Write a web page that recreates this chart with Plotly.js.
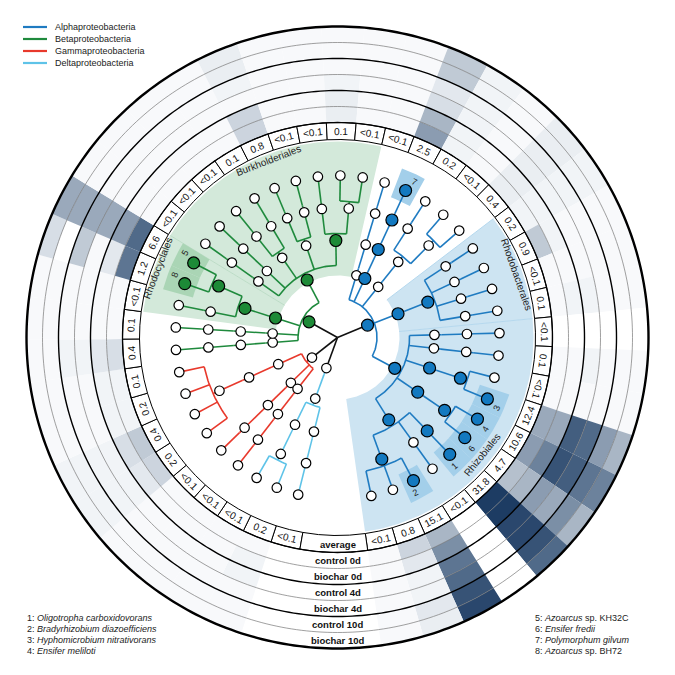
<!DOCTYPE html>
<html><head><meta charset="utf-8">
<script src="https://cdn.plot.ly/plotly-3.0.1.min.js"></script>
<style>html,body{margin:0;padding:0;background:#fff}#chart{width:675px;height:675px}</style>
</head><body><div id="chart"></div>
<script>
// ---------------- DATA ----------------
const averageLabels = ["<0.1","0.2","<0.1","<0.1","<0.1","0.2","0.4","0.2","0.1","0.4","0.1","<0.1","1.2","6.6","<0.1","<0.1","<0.1","0.1","0.8","<0.1","<0.1","0.1","<0.1","<0.1","2.5","0.2","<0.1","0.4","0.2","0.9","<0.1","0.1","<0.1","0.1","<0.1","12.4","10.6","4.7","31.8","<0.1","15.1","0.8","<0.1"];
const ringNames = ["control 0d","biochar 0d","control 4d","biochar 4d","control 10d","biochar 10d"];
// shading level (0 = white, 1 = darkest) per leaf, per sample ring
const control0d  = [0,0.05,0.05,0.05,0.05,0.3,0.35,0.1,0.1,0.25,0.05,0.05,0.7,0.75,0.05,0.05,0.05,0.05,0.3,0.05,0.05,0.15,0.05,0.05,0.55,0.1,0.05,0.15,0.1,0.35,0.05,0.05,0,0.05,0.05,0.5,0.55,0.4,0.95,0,0.45,0.3,0.05];
const biochar0d  = [0,0.1,0.05,0.05,0.05,0.2,0.25,0.1,0.1,0.2,0.05,0.05,0.2,0.55,0.05,0.05,0.05,0.05,0.3,0.05,0.05,0.15,0.05,0.05,0.45,0.1,0.05,0.15,0.1,0.1,0.05,0.1,0,0.05,0.05,0.5,0.65,0.45,0.95,0,0.6,0.2,0.05];
const control4d  = [0,0.1,0.05,0.05,0.05,0.1,0.1,0.05,0.05,0.1,0.05,0.05,0.05,0.5,0.05,0.05,0.05,0.05,0.05,0.05,0.05,0.1,0.05,0.05,0.25,0.1,0.05,0.15,0.1,0.05,0.05,0.1,0,0.1,0.05,0.8,0.85,0.55,0.9,0,0.7,0.1,0.05];
const biochar4d  = [0,0.05,0.05,0.05,0.05,0.1,0.1,0.05,0.05,0.1,0.05,0.05,0.35,0.5,0.05,0.05,0.05,0.05,0.1,0.05,0.05,0.05,0.05,0.05,0.2,0.1,0.05,0.15,0.1,0.05,0.05,0.05,0,0.05,0.05,0.75,0.8,0.5,0.9,0,0.75,0.1,0.05];
const control10d = [0,0.05,0.05,0.05,0.05,0.1,0.1,0.05,0.05,0.05,0.05,0.05,0,0.5,0.05,0.05,0.05,0.05,0.15,0.05,0.05,0.05,0.05,0.05,0.35,0.1,0.05,0.15,0.1,0.05,0.05,0.05,0,0.05,0.05,0.55,0.7,0.6,0.85,0,0.85,0.2,0.05];
const biochar10d = [0,0.05,0.05,0.05,0.05,0.1,0.1,0.05,0.05,0.05,0.05,0.05,0.25,0.5,0.05,0.05,0.05,0.05,0.15,0.05,0.05,0.05,0.05,0.05,0.35,0.1,0.05,0.15,0.1,0.05,0.05,0.05,0,0.05,0.05,0.45,0.65,0.45,0.75,0,0.9,0.15,0.05];
// taxonomy trees: class -> order -> family -> genus -> leaf index
const classNames = ["Alphaproteobacteria","Betaproteobacteria","Gammaproteobacteria","Deltaproteobacteria"];
const classKeys  = ["a","b","g","d"];
const alphaTree = [ [[[23]]], [[[24]]], [[[25],[26,27]]], [[[28],[29],[30],[31]]], [ [[32]], [[33]], [[34,35]], [[36,37]], [[38],[39],[40,41,42]] ] ];
const betaTree  = [ [[[9]]], [[[10]]], [[[11],[12,13]]], [ [[14]], [[15]], [[16],[17]], [[18],[19]], [[20],[21,22]] ] ];
const gammaTree = [ [[[5,6,7,8]]], [[[4]]], [[[3]]] ];
const deltaTree = [ [ [[0]], [[1,2]] ] ];
const filledNodes = ["a","a.1","a.1.0","a.1.0.0","a.3","a.3.0","a.4","a.4.2","a.4.2.0","a.4.3","a.4.3.0","a.4.4","a.4.4.0","a.4.4.2",
                     "b","b.2","b.2.0","b.2.0.1","b.3","b.3.4"];
const numberedLeaves = [38,40,35,36,13,37,24,12];   // labels 1..8
const orderNames = ["Burkholderiales","Rhodocyclales","Rhodobacterales","Rhizobiales"];
const orderLeafRanges = [[14,22],[11,13],[28,31],[32,42]];
const speciesNotes = ["1: <i>Oligotropha carboxidovorans</i>","2: <i>Bradyrhizobium diazoefficiens</i>","3: <i>Hyphomicrobium nitrativorans</i>","4: <i>Ensifer meliloti</i>",
                      "5: <i>Azoarcus</i> sp. KH32C","6: <i>Ensifer fredii</i>","7: <i>Polymorphum gilvum</i>","8: <i>Azoarcus</i> sp. BH72"];

// ---------------- GEOMETRY / STYLE ----------------
const N = averageLabels.length;
const W = 7.95, GAP = 360 - N*W, GAPC = 269;
const theta = k => GAPC - GAP/2 - W/2 - k*W;
const rad = d => d*Math.PI/180;
const P = (r,a) => [r*Math.cos(rad(a)), r*Math.sin(rad(a))];
const FONT = "Liberation Sans, Arial, sans-serif";
const classColors = {a:"#1f7bc1", b:"#1f8a3d", g:"#e8392c", d:"#5ec3e8"};
const fillColors  = {a:"#1379c0", b:"#1d8a37"};
const LEVEL_R = [0, 32.5, 65, 97, 129.5, 162];
const RING_IN = [215,231,247,263,279,295], RING_W = 16;
const AVG_IN = 198, AVG_W = 17;
const HEAT = [[0,'#ffffff'],[0.2,'#e3e8ee'],[0.45,'#a9b6c5'],[0.7,'#5d7592'],[1,'#10305a']];

const thetas = averageLabels.map((_,k)=>theta(k));
const traces = [];
const annotations = [];

// ---- heat rings (polar) ----
[control0d,biochar0d,control4d,biochar4d,control10d,biochar10d].forEach((vals,i)=>{
  traces.push({type:'barpolar', theta:thetas, r:vals.map(()=>RING_W), base:vals.map(()=>RING_IN[i]),
    width:vals.map(()=>W), marker:{color:vals, colorscale:HEAT, cmin:0, cmax:1, line:{width:0}},
    hoverinfo:'skip', showlegend:false});
});
// average ring boxes
traces.push({type:'barpolar', theta:thetas, r:thetas.map(()=>AVG_W), base:thetas.map(()=>AVG_IN), width:thetas.map(()=>W),
  marker:{color:'#ffffff', line:{color:'#000', width:1}}, hoverinfo:'skip', showlegend:false});
traces.push({type:'barpolar', theta:[GAPC], r:[AVG_W], base:[AVG_IN], width:[GAP],
  marker:{color:'#ffffff', line:{color:'#000', width:1}}, hoverinfo:'skip', showlegend:false});
// ring circles
const circ = []; for (let a=0;a<=360;a+=1) circ.push(a);
[[215,1.3,'#000'],[231,0.7,'#777'],[247,1.4,'#000'],[263,0.7,'#777'],[279,1.4,'#000'],[295,0.7,'#777'],[311,2.4,'#000']].forEach(([r,w,c])=>{
  traces.push({type:'scatterpolar', mode:'lines', theta:circ, r:circ.map(()=>r), line:{color:c,width:w}, hoverinfo:'skip', showlegend:false});
});

// ---- cartesian: wedges ----
function sector(r0,r1,a0,a1){
  const xs=[],ys=[]; const n=Math.max(2,Math.ceil(Math.abs(a1-a0)));
  for(let i=0;i<=n;i++){const a=a0+(a1-a0)*i/n; const p=P(r1,a); xs.push(p[0]); ys.push(p[1]);}
  for(let i=n;i>=0;i--){const a=a0+(a1-a0)*i/n; const p=P(r0,a); xs.push(p[0]); ys.push(p[1]);}
  xs.push(xs[0]); ys.push(ys[0]); return {xs,ys};
}
const wedgeColors = ['#d3e9da','#d3e9da','#cde4f2','#cde4f2'];
orderLeafRanges.forEach(([k0,k1],i)=>{
  const s = sector(62,196, theta(k0)+W/2, theta(k1)-W/2);
  traces.push({type:'scatter', x:s.xs, y:s.ys, mode:'lines', fill:'toself', fillcolor:wedgeColors[i], line:{width:0}, hoverinfo:'skip', showlegend:false});
});
// separator lines between adjacent orders
[[13.5,'#bcdcc6'],[27.5,'#b5d8ee'],[31.5,'#b5d8ee']].forEach(([k,c])=>{
  const a=theta(k); const p0=P(62,a), p1=P(196,a);
  traces.push({type:'scatter', x:[p0[0],p1[0]], y:[p0[1],p1[1]], mode:'lines', line:{color:c,width:1}, hoverinfo:'skip', showlegend:false});
});
// numbered leaf boxes
numberedLeaves.forEach((k)=>{
  const col = (k>=9 && k<=22) ? '#aad5b5' : '#a3cfea';
  const s = sector(150,181, theta(k)+W/2, theta(k)-W/2);
  traces.push({type:'scatter', x:s.xs, y:s.ys, mode:'lines', fill:'toself', fillcolor:col, line:{width:0}, hoverinfo:'skip', showlegend:false});
});

// ---- tree ----
function build(node, level, path){
  if (typeof node === 'number') return {leaf:node, a:theta(node), level:5, path, ch:[]};
  const ch = node.map((c,i)=>build(c, level+1, path+'.'+i));
  const as = ch.map(c=>c.a);
  return {a:(Math.min(...as)+Math.max(...as))/2, level, ch, path};
}
const trees = [alphaTree,betaTree,gammaTree,deltaTree].map((t,i)=>build(t,1,classKeys[i]));
const rootX=[], rootY=[];
const nodesOpen={x:[],y:[]}, nodesFilled={a:{x:[],y:[]}, b:{x:[],y:[]}};
trees.forEach((cn,i)=>{
  const key = classKeys[i];
  const lx=[], ly=[];
  const pc = P(LEVEL_R[1], cn.a); rootX.push(0,pc[0],null); rootY.push(0,pc[1],null);
  (function walk(n){
    const p = P(LEVEL_R[n.level], n.a);
    const isFilled = (n.leaf!==undefined) ? numberedLeaves.includes(n.leaf) : filledNodes.includes(n.path);
    if (isFilled) { nodesFilled[key].x.push(p[0]); nodesFilled[key].y.push(p[1]); }
    else { nodesOpen.x.push(p[0]); nodesOpen.y.push(p[1]); }
    if (!n.ch.length) return;
    const Ra = LEVEL_R[n.level] + 7;
    const q = P(Ra, n.a); lx.push(p[0],q[0],null); ly.push(p[1],q[1],null);
    const as = n.ch.map(c=>c.a); const amin=Math.min(...as), amax=Math.max(...as);
    if (amax-amin>0.01){ for(let a=amin;a<=amax+1e-9;a+=Math.min(1,(amax-amin))){const r=P(Ra,a); lx.push(r[0]); ly.push(r[1]);} const e=P(Ra,amax); lx.push(e[0],null); ly.push(e[1],null); }
    n.ch.forEach(c=>{ const s=P(Ra,c.a), t=P(LEVEL_R[c.level],c.a); lx.push(s[0],t[0],null); ly.push(s[1],t[1],null); walk(c); });
  })(cn);
  traces.push({type:'scatter', x:lx, y:ly, mode:'lines', line:{color:classColors[key], width:1.6}, hoverinfo:'skip', showlegend:false});
});
traces.push({type:'scatter', x:rootX, y:rootY, mode:'lines', line:{color:'#111', width:1.6}, hoverinfo:'skip', showlegend:false});
traces.push({type:'scatter', x:nodesOpen.x, y:nodesOpen.y, mode:'markers', marker:{size:9.5, color:'#fff', line:{color:'#000', width:1.2}}, hoverinfo:'skip', showlegend:false});
['a','b'].forEach(k=>traces.push({type:'scatter', x:nodesFilled[k].x, y:nodesFilled[k].y, mode:'markers', marker:{size:12, color:fillColors[k], line:{color:'#000', width:1.2}}, hoverinfo:'skip', showlegend:false}));

// ---- legend (manual) ----
const toX = px => px - 337.5, toY = py => 337.5 - py;
classKeys.forEach((k,i)=>{
  const py = 27 + i*12;
  traces.push({type:'scatter', x:[toX(23),toX(47)], y:[toY(py),toY(py)], mode:'lines', line:{color:classColors[k], width:2.2}, hoverinfo:'skip', showlegend:false});
  annotations.push({x:toX(53), y:toY(py), xref:'x', yref:'y', text:classNames[i], showarrow:false, xanchor:'left', yanchor:'middle', font:{family:FONT, size:9, color:'#222'}});
});

// ---- texts ----
const esc = s => s.replace(/</g,'&lt;');
function tangentAngle(a){ let t = (a > -20 && a < 212) ? 90 - a : -90 - a; while(t>180) t-=360; while(t<-180) t+=360; return t; }
averageLabels.forEach((lab,k)=>{
  const a = theta(k), p = P(AVG_IN + AVG_W/2, a);
  annotations.push({x:p[0], y:p[1], xref:'x', yref:'y', text:esc(lab), showarrow:false, textangle:tangentAngle(a), font:{family:FONT, size:10, color:'#111'}});
});
["average"].concat(ringNames).forEach((lab,i)=>{
  const r = i===0 ? AVG_IN + AVG_W/2 : RING_IN[i-1] + RING_W/2;
  annotations.push({x:0, y:-r, xref:'x', yref:'y', text:'<b>'+lab+'</b>', showarrow:false, font:{family:FONT, size:9.5, color:'#111'}});
});
// order labels
[[0,111.3,190],[1,158.9,193],[2,19.4,190],[3,-38.9,186]].forEach(([i,a,r])=>{
  const p = P(r,a);
  annotations.push({x:p[0], y:p[1], xref:'x', yref:'y', text:orderNames[i], showarrow:false, textangle:tangentAngle(a), font:{family:FONT, size:10, color:'#222'}});
});
// numbered labels
numberedLeaves.forEach((k,i)=>{
  const a = theta(k) - 1.5, p = P(174, a);
  annotations.push({x:p[0], y:p[1], xref:'x', yref:'y', text:String(i+1), showarrow:false, textangle:tangentAngle(a), font:{family:FONT, size:9, color:'#222'}});
});
// species notes
speciesNotes.forEach((t,i)=>{
  const px = i<4 ? 25 : 533, py = 618 + (i%4)*11;
  annotations.push({x:toX(px), y:toY(py), xref:'x', yref:'y', text:t, showarrow:false, xanchor:'left', yanchor:'middle', font:{family:FONT, size:9, color:'#222'}});
});

const layout = {
  width:675, height:675, margin:{l:0,r:0,t:0,b:0,pad:0}, paper_bgcolor:'#fff', plot_bgcolor:'rgba(0,0,0,0)',
  showlegend:false, dragmode:false, hovermode:false,
  xaxis:{range:[-337.5,337.5], visible:false, fixedrange:true, domain:[0,1]},
  yaxis:{range:[-337.5,337.5], visible:false, fixedrange:true, domain:[0,1]},
  polar:{domain:{x:[0,1],y:[0,1]}, bgcolor:'rgba(0,0,0,0)', barmode:'overlay', hole:0,
    radialaxis:{visible:false, range:[0,337.5]}, angularaxis:{visible:false, rotation:0, direction:'counterclockwise'}},
  annotations
};
Plotly.newPlot('chart', traces, layout, {staticPlot:true, displayModeBar:false});
</script></body></html>
